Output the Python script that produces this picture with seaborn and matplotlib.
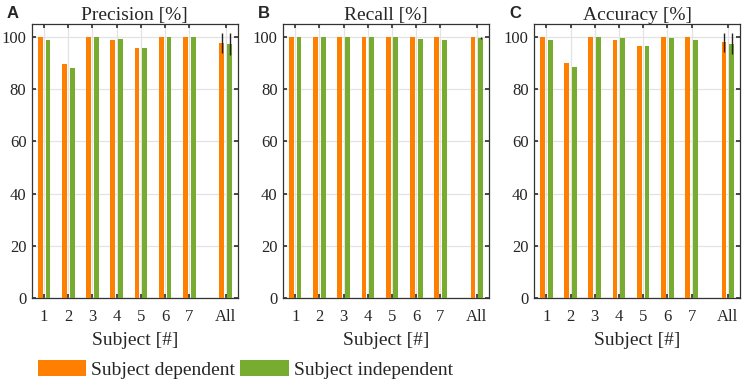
import numpy as np
import pandas as pd
import matplotlib
matplotlib.use("Agg")
import matplotlib.pyplot as plt
import seaborn as sns

# Chart values
subjects = ["1", "2", "3", "4", "5", "6", "7", "All"]
groups = ["Subject dependent", "Subject independent"]
metrics = ["Precision [%]", "Recall [%]", "Accuracy [%]"]
panel_letters = ["A", "B", "C"]

precision_dep = [100, 89.5, 100, 98.8, 95.9, 100, 100, 97.8]
precision_indep = [98.8, 88.2, 100, 99.4, 95.9, 100, 100, 97.4]
recall_dep = [100, 100, 100, 100, 100, 100, 100, 100]
recall_indep = [100, 100, 100, 100, 100, 99.4, 98.9, 99.6]
accuracy_dep = [100, 90.1, 100, 99.0, 96.5, 100, 100, 98.0]
accuracy_indep = [98.9, 88.6, 100, 99.5, 96.5, 99.5, 98.9, 97.4]

# std for the "All" bars
precision_err = [3.9, 4.2]
recall_err = [0.0, 0.4]
accuracy_err = [3.7, 4.0]

colors = ["#FF8000", "#77AC30"]

sns.set_theme(style="whitegrid")
plt.rcParams["font.family"] = ["Liberation Serif", "DejaVu Serif"]

# x positions: subjects 1..7, "All" set apart
xpos = list(range(1, 8)) + [8.5]

data = {
    metrics[0]: (precision_dep, precision_indep, precision_err),
    metrics[1]: (recall_dep, recall_indep, recall_err),
    metrics[2]: (accuracy_dep, accuracy_indep, accuracy_err),
}

fig, axes = plt.subplots(1, 3, figsize=(7.43, 3.81), dpi=100)
fig.subplots_adjust(left=0.043, right=0.996, top=0.937, bottom=0.218, wspace=0.22)

for ax, metric, letter in zip(axes, metrics, panel_letters):
    dep, indep, err = data[metric]
    df = pd.DataFrame({
        "x": xpos * 2,
        "value": dep + indep,
        "group": [groups[0]] * len(dep) + [groups[1]] * len(indep),
    })
    sns.barplot(data=df, x="x", y="value", hue="group", palette=colors,
                native_scale=True, width=0.64, gap=0.375, errorbar=None,
                saturation=1, edgecolor="none", legend=False, ax=ax, zorder=3)

    # error bars on the "All" pair, taken from the drawn bars
    for cont, e in zip(ax.containers, err):
        bar = cont.patches[-1]
        ax.errorbar(bar.get_x() + bar.get_width() / 2, bar.get_height(), yerr=e,
                    fmt="none", ecolor="#222222", elinewidth=1.0, capsize=0, zorder=4)

    ax.set_xlim(0.5, 9.0)
    ax.set_ylim(0, 105)
    ax.set_xticks(xpos)
    ax.set_xticklabels(subjects)
    ax.set_yticks([0, 20, 40, 60, 80, 100])
    ax.set_title(metric, fontsize=14, pad=3)
    ax.set_xlabel("Subject [#]", fontsize=14, labelpad=5)
    ax.set_ylabel("")
    ax.tick_params(axis="both", labelsize=12, direction="in", length=3,
                   top=True, right=True, bottom=True, left=True, color="#333333", pad=4)
    ax.tick_params(axis="x", pad=8)
    ax.grid(True, color="#e3e3e3", linewidth=0.9, zorder=0)
    ax.set_axisbelow(True)
    for sp in ax.spines.values():
        sp.set_color("#333333")
        sp.set_linewidth(0.9)

    # panel letter in figure pixels, left of the axes
    x0 = ax.get_position().x0
    fig.text(x0 - 0.034, 1 - 13 / 381, letter, fontsize=12, fontweight="bold",
             family="Liberation Sans", va="center", ha="left")

handles = [plt.Rectangle((0, 0), 1, 1, facecolor=c, edgecolor="none") for c in colors]
fig.legend(handles, groups, loc="lower left", bbox_to_anchor=(0.03, -0.035), ncol=2,
           frameon=False, fontsize=14, handlelength=2.5, handleheight=0.9,
           handletextpad=0.25, columnspacing=0.25, borderpad=0.3)

fig.savefig("out.png", dpi=100)
